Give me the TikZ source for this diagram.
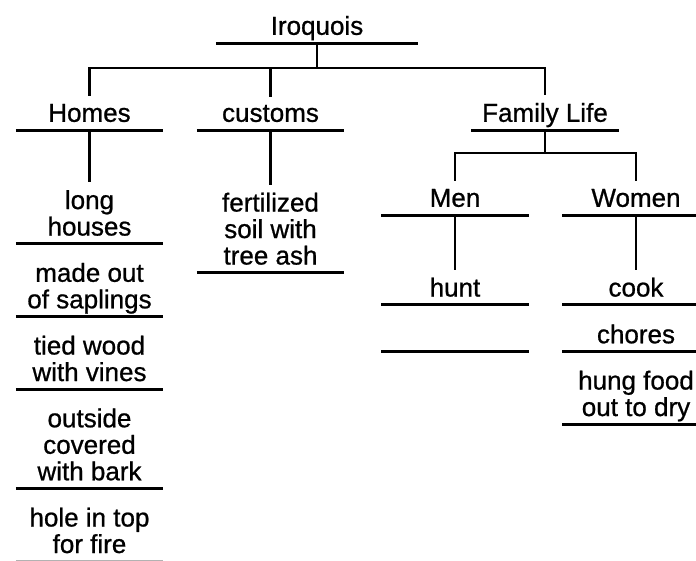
\documentclass[tikz,border=0pt]{standalone}
\usepackage{fontspec}
\setmainfont[FakeBold=0.8]{Liberation Sans}
\usetikzlibrary{positioning,calc}
\tikzset{
    entry/.style={
        inner xsep=0pt,
        inner ysep=8pt,
        minimum width=147pt,
        text depth=0pt,
        align=center,
        font=\fontsize{26pt}{26.5pt}\selectfont,
        append after command={
            (\tikzlastnode.south west) edge[line width=3pt, draw=#1] (\tikzlastnode.south east)
        }
    },
    entry/.default=black,
    link/.style={line width=2.8pt}
}

\begin{document}
\begin{tikzpicture}[x=1pt, y=-1pt]
    \useasboundingbox (0,0) rectangle (696,560);

    % top levels
    \node[entry, minimum width=202pt, anchor=south] (root) at (317,43) {Iroquois};
    \node[entry, anchor=south] (homes) at (89.5,130) {Homes};
    \node[entry, anchor=south] (customs) at (270.5,130) {customs};
    \node[entry, anchor=south] (family) at (545,130) {Family Life};
    \node[entry, anchor=south] (men) at (455,215) {Men};
    \node[entry, anchor=south] (women) at (636,215) {Women};

    % homes column
    \node[entry, below=52pt of homes] (longhouse) {long\\houses};
    \node[entry, below=11pt of longhouse] (saplings) {made out\\of saplings};
    \node[entry, below=11pt of saplings] (vines) {tied wood\\with vines};
    \node[entry, below=11pt of vines] (bark) {outside\\covered\\with bark};
    \node[entry=black!30, below=11pt of bark] (firehole) {hole in top\\for fire};

    % customs column
    \node[entry, below=54.5pt of customs] (soil) {fertilized\\soil with\\tree ash};

    % men and women
    \node[entry, below=54.5pt of men] (hunt) {hunt};
    \node[entry, text height=18.6pt, below=11.5pt of hunt] (menblank) {};
    \node[entry, below=54.5pt of women] (cook) {cook};
    \node[entry, below=11.5pt of cook] (chores) {chores};
    \node[entry, below=11pt of chores] (dry) {hung food\\out to dry};

    % connectors
    \coordinate (fork) at ($(root.south)+(0,25)$);
    \draw[link] (root.south) -- (fork);
    \draw[link] (fork) -| (homes.north);
    \draw[link] (fork) -| (customs.north);
    \draw[link] (fork) -| (family.north);
    \draw[link] (homes.south) -- (longhouse.north);
    \draw[link] (customs.south) -- (soil.north);

    \coordinate (famfork) at ($(family.south)+(0,23)$);
    \draw[link] (family.south) -- (famfork);
    \draw[link] (famfork) -| (men.north);
    \draw[link] (famfork) -| (women.north);
    \draw[link] (men.south) -- (hunt.north);
    \draw[link] (women.south) -- (cook.north);
\end{tikzpicture}
\end{document}
